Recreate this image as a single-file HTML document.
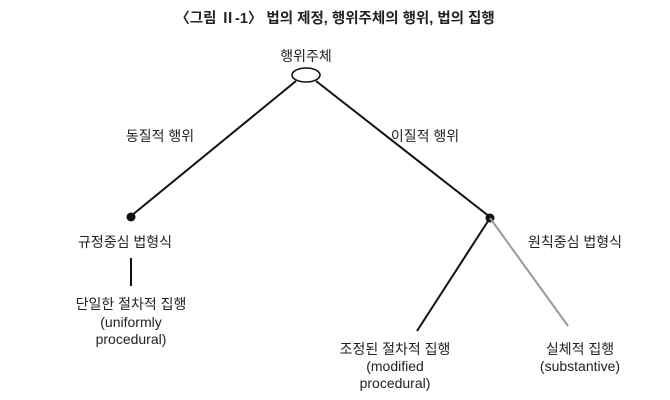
<!DOCTYPE html>
<html><head><meta charset="utf-8"><style>
html,body{margin:0;padding:0;background:#fff;}
svg{display:block}
text{font-family:"Liberation Sans","Noto Sans CJK KR",sans-serif;fill:#222;font-size:14px;text-anchor:middle}
</style></head><body>
<svg width="670" height="400" viewBox="0 0 670 400">
<text x="335" y="23" style="font-size:14.5px;font-weight:bold">〈그림 Ⅱ-1〉 법의 제정, 행위주체의 행위, 법의 집행</text>
<text x="306" y="61">행위주체</text>
<ellipse cx="306" cy="75" rx="14" ry="7" fill="#fff" stroke="#111" stroke-width="1.6"/>
<line x1="296" y1="81" x2="131" y2="216" stroke="#111" stroke-width="2"/>
<line x1="316" y1="81" x2="490" y2="217" stroke="#111" stroke-width="2"/>
<circle cx="131" cy="217" r="4.5" fill="#111"/>
<circle cx="490" cy="218" r="4.5" fill="#111"/>
<line x1="490" y1="218" x2="417" y2="331" stroke="#111" stroke-width="2"/>
<line x1="490" y1="218" x2="568" y2="326" stroke="#999" stroke-width="2"/>
<line x1="131" y1="258" x2="131" y2="286" stroke="#111" stroke-width="2"/>
<text x="160" y="141">동질적 행위</text>
<text x="425" y="141">이질적 행위</text>
<text x="125" y="247">규정중심 법형식</text>
<text x="575" y="247">원칙중심 법형식</text>
<text x="131" y="309">단일한 절차적 집행</text>
<text x="131" y="327">(uniformly</text>
<text x="131" y="344">procedural)</text>
<text x="395" y="354">조정된 절차적 집행</text>
<text x="395" y="371">(modified</text>
<text x="395" y="388">procedural)</text>
<text x="580" y="354">실체적 집행</text>
<text x="580" y="371">(substantive)</text>
</svg>
</body></html>
